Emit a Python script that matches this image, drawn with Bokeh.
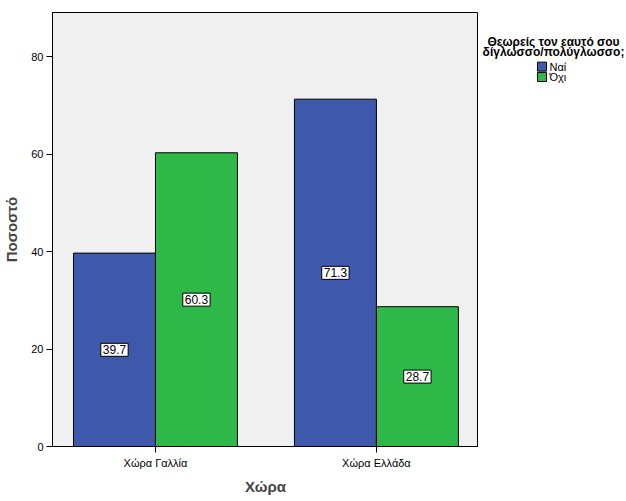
import numpy as np
from bokeh.plotting import figure
from bokeh.layouts import row
from bokeh.models import ColumnDataSource, Range1d, FixedTicker, Label
from bokeh.core.properties import value
from bokeh.transform import dodge
from bokeh.embed import file_html
from bokeh.resources import INLINE

countries = ["Χώρα Γαλλία", "Χώρα Ελλάδα"]
answers = ["Ναί", "Όχι"]
yes_values = [39.7, 71.3]
no_values = [60.3, 28.7]
y_ticks = [0, 20, 40, 60, 80]
legend_title = ["Θεωρείς τον εαυτό σου", "δίγλωσσο/πολύγλωσσο;"]
x_label = "Χώρα"
y_label = "Ποσοστό"

BLUE = "#3E58AC"
GREEN = "#2EB848"
COLORS = [BLUE, GREEN]
FONT = "Liberation Sans"

xpos = list(np.arange(len(countries)) + 1.0)
src = ColumnDataSource(dict(x=xpos, yes=yes_values, no=no_values))

p = figure(width=478, height=501, output_backend="svg", toolbar_location=None,
           x_range=Range1d(0.534, 2.462), y_range=Range1d(0, 89.1))
p.min_border_left = 52
p.min_border_right = 0
p.min_border_top = 12
p.min_border_bottom = 55
p.background_fill_color = "#F0F0F0"
p.border_fill_color = "white"
p.outline_line_color = "black"
p.outline_line_width = 1
p.grid.visible = False

bw = 0.371
p.vbar(x=dodge("x", -bw / 2, range=p.x_range), top="yes", width=bw, source=src,
       fill_color=COLORS[0], line_color="black", line_width=1)
p.vbar(x=dodge("x", bw / 2, range=p.x_range), top="no", width=bw, source=src,
       fill_color=COLORS[1], line_color="black", line_width=1)

for vals, off in ((yes_values, -bw / 2), (no_values, bw / 2)):
    for x, v in zip(xpos, vals):
        p.add_layout(Label(x=x + off, y=v / 2, text=f"{v:.1f}",
                           text_align="center", text_baseline="middle",
                           text_font=FONT, text_font_size="12px", text_color="black",
                           background_fill_color="white", border_line_color="black",
                           border_line_width=1, padding=2))

# axes
p.xaxis.ticker = FixedTicker(ticks=xpos)
p.xaxis.major_label_overrides = {float(x): c for x, c in zip(xpos, countries)}
p.xaxis.minor_tick_line_color = None
p.xaxis.major_tick_out = 6
p.xaxis.major_tick_in = 0
p.xaxis.axis_line_color = "black"
p.xaxis.major_label_standoff = 4
p.xaxis.major_label_text_font = FONT
p.xaxis.major_label_text_font_size = "11px"
p.xaxis.major_label_text_color = "black"
p.xaxis.axis_label = x_label
p.xaxis.axis_label_text_font = FONT
p.xaxis.axis_label_text_font_size = "15px"
p.xaxis.axis_label_text_font_style = "bold"
p.xaxis.axis_label_standoff = 6

p.yaxis.ticker = FixedTicker(ticks=y_ticks)
p.yaxis.minor_tick_line_color = None
p.yaxis.major_tick_out = 6
p.yaxis.major_tick_in = 0
p.yaxis.axis_line_color = "black"
p.yaxis.major_label_standoff = 3
p.yaxis.major_label_text_font = FONT
p.yaxis.major_label_text_font_size = "11px"
p.yaxis.major_label_text_color = "black"
p.yaxis.axis_label = y_label
p.yaxis.axis_label_text_font = FONT
p.yaxis.axis_label_text_font_size = "15px"
p.yaxis.axis_label_text_font_style = "bold"
p.yaxis.axis_label_standoff = 8

# legend panel (pixel-like coordinates, y downward)
lg = figure(width=148, height=501, output_backend="svg", toolbar_location=None,
            x_range=Range1d(0, 148), y_range=Range1d(501, 0))
lg.min_border = 0
lg.outline_line_color = None
lg.axis.visible = False
lg.grid.visible = False
lg.background_fill_color = "white"
lg.border_fill_color = "white"

lg.text(x=[75, 75], y=[34, 46], text=legend_title, text_align="center",
        text_baseline="middle", text_font=value(FONT), text_font_size="12px",
        text_font_style="bold", text_color="black")
lg.rect(x=[63.5, 63.5], y=[62.5, 74.5], width=9, height=9,
        width_units="screen", height_units="screen",
        fill_color=COLORS, line_color="black", line_width=1)
lg.text(x=[71, 71], y=[62.5, 74.5], text=answers, text_align="left",
        text_baseline="middle", text_font=value(FONT), text_font_size="11px",
        text_color="black")

layout = row(p, lg, spacing=0)
open("out.html", "w").write(file_html(layout, INLINE))
